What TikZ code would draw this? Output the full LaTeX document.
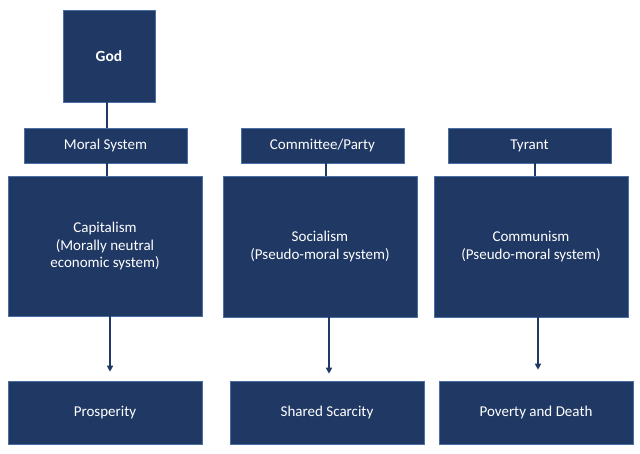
\documentclass[tikz,border=0pt]{standalone}
\usepackage{fontspec}
\setmainfont{Carlito}
\usetikzlibrary{arrows.meta}
\definecolor{navy}{HTML}{203864}
\definecolor{edge}{HTML}{4A6FA5}
\begin{document}
\begin{tikzpicture}[x=1pt,y=-1pt,
	box/.style={draw=edge,line width=0.6pt,fill=navy,text=white,align=center,inner sep=0pt,
		font=\fontsize{15}{17.5}\selectfont},
	link/.style={draw=navy,line width=1.4pt},
	lead/.style={link,-{Triangle[width=6pt,length=6pt]},shorten >=9pt}]
		\useasboundingbox[fill=white] (0,0) rectangle (640,453);
		% top of the capitalism column
		\node[box,minimum width=92pt,minimum height=92pt,font=\fontsize{15.5}{17.5}\selectfont\bfseries] (god) at (109,56) {God};
		\node[box,minimum width=163pt,minimum height=35pt] (moral) at (105.5,145.5) {Moral System};
		\node[box,minimum width=163pt,minimum height=35pt] (party) at (322.5,145.5) {Committee/Party};
		\node[box,minimum width=163pt,minimum height=35pt] (tyrant) at (529.5,145.5) {Tyrant};
		% systems
		\node[box,minimum width=194pt,minimum height=140pt] (capital) at (105,246) {Capitalism\\(Morally neutral\\economic system)};
		\node[box,minimum width=194pt,minimum height=141pt] (social) at (320,246.5) {Socialism\\(Pseudo-moral system)};
		\node[box,minimum width=194pt,minimum height=141pt] (commun) at (531,246.5) {Communism\\(Pseudo-moral system)};
		% outcomes
		\node[box,minimum width=194pt,minimum height=63pt] (prosper) at (105,412.5) {Prosperity};
		\node[box,minimum width=194pt,minimum height=63pt] (scarce) at (327,412.5) {Shared Scarcity};
		\node[box,minimum width=194pt,minimum height=63pt] (poverty) at (536,412.5) {Poverty and Death};
		% connectors
		\draw[link] ([xshift=-2pt]god.south) -- ([xshift=-2pt]god.south |- moral.north);
		\draw[link] ([xshift=1.5pt]moral.south) -- ([xshift=1.5pt]moral.south |- capital.north);
		\draw[link] ([xshift=3.5pt]party.south) -- ([xshift=3.5pt]party.south |- social.north);
		\draw[link] ([xshift=5.5pt]tyrant.south) -- ([xshift=5.5pt]tyrant.south |- commun.north);
		\draw[lead] ([xshift=5pt]capital.south) -- ([xshift=5pt]capital.south |- prosper.north);
		\draw[lead,shorten >=7pt] ([xshift=9pt]social.south) -- ([xshift=9pt]social.south |- scarce.north);
		\draw[lead,shorten >=11pt] ([xshift=7pt]commun.south) -- ([xshift=7pt]commun.south |- poverty.north);
	\end{tikzpicture}
\end{document}
